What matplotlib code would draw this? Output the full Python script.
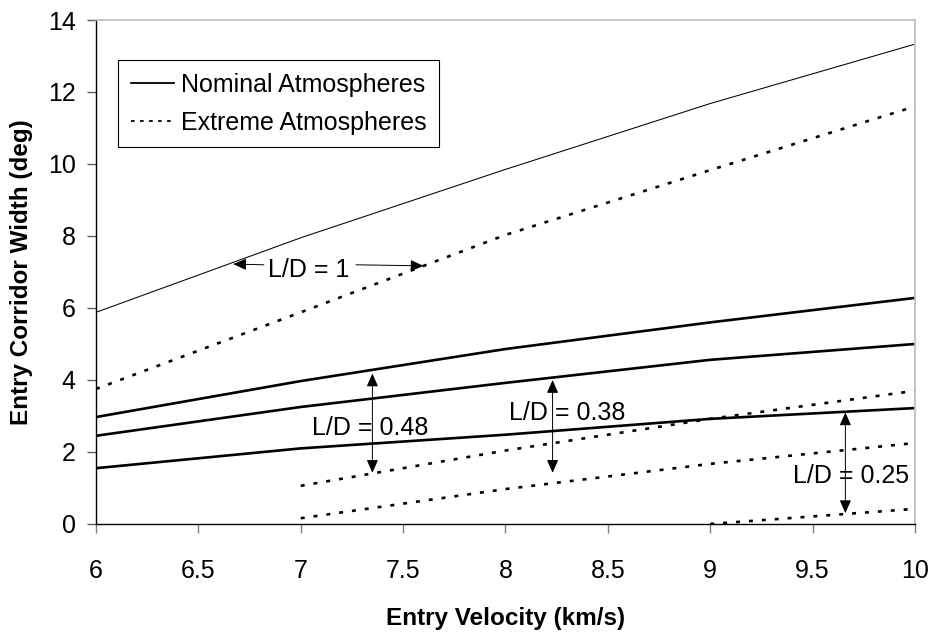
import matplotlib.pyplot as plt
from matplotlib.lines import Line2D

plt.rcParams['font.family'] = ['Liberation Sans', 'DejaVu Sans']

# entry velocity (km/s)
velocity = [6, 7, 8, 9, 10]
velocity_from7 = [7, 8, 9, 10]
velocity_from9 = [9, 10]

# corridor widths (deg), nominal atmospheres
nominal_ld100 = [5.88, 7.95, 9.85, 11.68, 13.33]
nominal_ld048 = [2.97, 3.97, 4.86, 5.6, 6.28]
nominal_ld038 = [2.45, 3.25, 3.92, 4.56, 5.0]
nominal_ld025 = [1.55, 2.1, 2.48, 2.92, 3.22]

# corridor widths (deg), extreme atmospheres
extreme_ld100 = [3.75, 5.88, 8.03, 9.83, 11.6]
extreme_ld048 = [1.06, 2.04, 2.92, 3.7]
extreme_ld038 = [0.16, 0.97, 1.67, 2.25]
extreme_ld025 = [0.0, 0.42]

ld_labels = ['L/D = 1', 'L/D = 0.48', 'L/D = 0.38', 'L/D = 0.25']

fig, ax = plt.subplots(figsize=(9.31, 6.39), dpi=100)
fig.subplots_adjust(left=0.1031, right=0.9828, top=0.9687, bottom=0.18)

dots = dict(color='black', lw=1.9, linestyle=(0, (1.5, 3.4)), dash_capstyle='butt')
bold = dict(color='black', lw=1.9, solid_capstyle='butt')

ax.plot(velocity, nominal_ld100, color='black', lw=0.75)
ax.plot(velocity, extreme_ld100, **dots)
ax.plot(velocity, nominal_ld048, **bold)
ax.plot(velocity, nominal_ld038, **bold)
ax.plot(velocity, nominal_ld025, **bold)
ax.plot(velocity_from7, extreme_ld048, **dots)
ax.plot(velocity_from7, extreme_ld038, **dots)
ax.plot(velocity_from9, extreme_ld025, **dots)

ax.set_xlim(6, 10)
ax.set_ylim(0, 14)
ax.set_xticks([6, 6.5, 7, 7.5, 8, 8.5, 9, 9.5, 10])
ax.set_xticklabels(['6', '6.5', '7', '7.5', '8', '8.5', '9', '9.5', '10'])
ax.set_yticks(range(0, 15, 2))

ax.tick_params(axis='x', direction='out', length=6.5, width=1, color='#808080',
               pad=19, labelsize=18)
ax.tick_params(axis='y', direction='out', length=6.5, width=1, color='#606060',
               pad=8, labelsize=18)

for side in ['left', 'bottom']:
    ax.spines[side].set_color('black')
    ax.spines[side].set_linewidth(1)
for side in ['top', 'right']:
    ax.spines[side].set_color('#c0c0c0')
    ax.spines[side].set_linewidth(1.3)

ax.set_xlabel('Entry Velocity (km/s)', fontsize=17.5, fontweight='bold', labelpad=17)
ax.set_ylabel('Entry Corridor Width (deg)', fontsize=17.5, fontweight='bold', labelpad=11)

# annotations
head = dict(arrowstyle='-|>,head_length=0.8,head_width=0.35', color='black',
            lw=0.7, shrinkA=0, shrinkB=0)
ax.text(7.04, 7.05, ld_labels[0], fontsize=18, ha='center', va='center')
ax.annotate('', xy=(6.67, 7.22), xytext=(6.82, 7.2), arrowprops=head)
ax.annotate('', xy=(7.6, 7.17), xytext=(7.27, 7.2), arrowprops=head)

for x, y_top, y_bot, tx, ty, lab in [(7.35, 4.18, 1.42, 7.34, 2.67, ld_labels[1]),
                                     (8.23, 4.0, 1.42, 8.3, 3.08, ld_labels[2]),
                                     (9.66, 3.1, 0.3, 9.69, 1.33, ld_labels[3])]:
    ax.annotate('', xy=(x, y_top), xytext=(x, ty), arrowprops=head)
    ax.annotate('', xy=(x, y_bot), xytext=(x, ty), arrowprops=head)
    ax.text(tx, ty, lab, fontsize=18, ha='center', va='center')

handles = [Line2D([], [], color='black', lw=1.3),
           Line2D([], [], color='black', lw=1.3, linestyle=(0, (2, 3)))]
leg = ax.legend(handles, ['Nominal Atmospheres', 'Extreme Atmospheres'],
                loc='upper left', bbox_to_anchor=(0.027, 0.92), fontsize=18,
                frameon=True, fancybox=False, edgecolor='black', framealpha=1,
                handlelength=1.75, handletextpad=0.25, borderpad=0.5,
                labelspacing=0.55, borderaxespad=0)
leg.get_frame().set_linewidth(0.8)

plt.savefig('out.png', dpi=100)
